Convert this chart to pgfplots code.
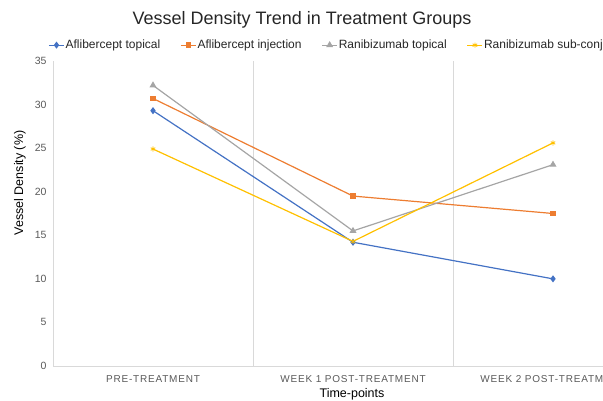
\documentclass[border=0pt]{standalone}
\usepackage{pgfplots}
\pgfplotsset{compat=1.18}
\usepackage{fontspec}
\setmainfont{Liberation Sans}
\definecolor{cA}{HTML}{4472C4}
\definecolor{cB}{HTML}{ED7D31}
\definecolor{cC}{HTML}{A5A5A5}
\definecolor{cD}{HTML}{FFC000}
\definecolor{gridc}{HTML}{D9D9D9}
\definecolor{txt}{HTML}{595959}
\definecolor{dtxt}{HTML}{262626}
\begin{document}
\begin{tikzpicture}[x=1pt,y=1pt]
\useasboundingbox (0,0) rectangle (603,401);
\clip (0,0) rectangle (603,401);
\begin{axis}[
  at={(53pt,35pt)}, anchor=south west,
  scale only axis, width=600pt, height=305pt,
  xmin=-0.5, xmax=2.5, ymin=0, ymax=35,
  ytick={0,5,...,35},
  xtick={0,1,2},
  xticklabels={PRE-TREATMENT, WEEK 1 POST-TREATMENT, WEEK 2 POST-TREATMENT},
  minor xtick={0.5,1.5},
  minor x grid style={draw=gridc, line width=0.75pt},
  xminorgrids=true,
  axis x line=bottom, axis y line=left,
  axis line style={draw=gridc, line width=0.75pt, -},
  major tick length=0pt, minor tick length=0pt,
  tick style={draw=none},
  /pgf/number format/assume math mode=true,
  ticklabel style={font=\fontsize{10.5}{12}\selectfont, text=txt},
  xticklabel style={font=\fontsize{10}{12}\selectfont\addfontfeatures{LetterSpace=8}, text=txt, yshift=-6pt},
  yticklabel style={xshift=-3pt},
  legend style={at={(axis description cs:-0.013,1.052)}, anchor=west, draw=none, fill=none,
    font=\fontsize{12}{14}\selectfont, text=dtxt, legend columns=4,
    /tikz/every even column/.append style={column sep=19pt},
    nodes={inner xsep=1pt}},
  legend cell align=left,
  legend image code/.code={\draw[mark repeat=2,mark phase=2] plot coordinates {(0pt,0pt)(7.5pt,0pt)(15pt,0pt)};},
  every axis plot/.append style={line width=1.2pt},
]
\addplot[cA, mark=diamond*, mark size=2.6pt, mark options={solid}] coordinates {(0,29.3) (1,14.2) (2,10.0)};
\addlegendentry{Aflibercept topical}
\addplot[cB, mark=square*, mark size=2.3pt] coordinates {(0,30.7) (1,19.5) (2,17.5)};
\addlegendentry{Aflibercept injection}
\addplot[cC, mark=triangle*, mark size=2.9pt] coordinates {(0,32.2) (1,15.5) (2,23.1)};
\addlegendentry{Ranibizumab topical}
\addplot[cD, mark=asterisk, mark size=2.6pt, mark options={line width=0.8pt}] coordinates {(0,24.9) (1,14.3) (2,25.6)};
\addlegendentry{Ranibizumab sub-conj}
\end{axis}
\node[font=\fontsize{18}{21}\selectfont, text=dtxt] at (302,381) {Vessel Density Trend in Treatment Groups};
\node[font=\fontsize{12.5}{14}\selectfont, text=black, rotate=90] at (20,218) {Vessel Density (\%)};
\node[font=\fontsize{12.5}{14}\selectfont, text=black] at (352,7) {Time-points};
\end{tikzpicture}
\end{document}
